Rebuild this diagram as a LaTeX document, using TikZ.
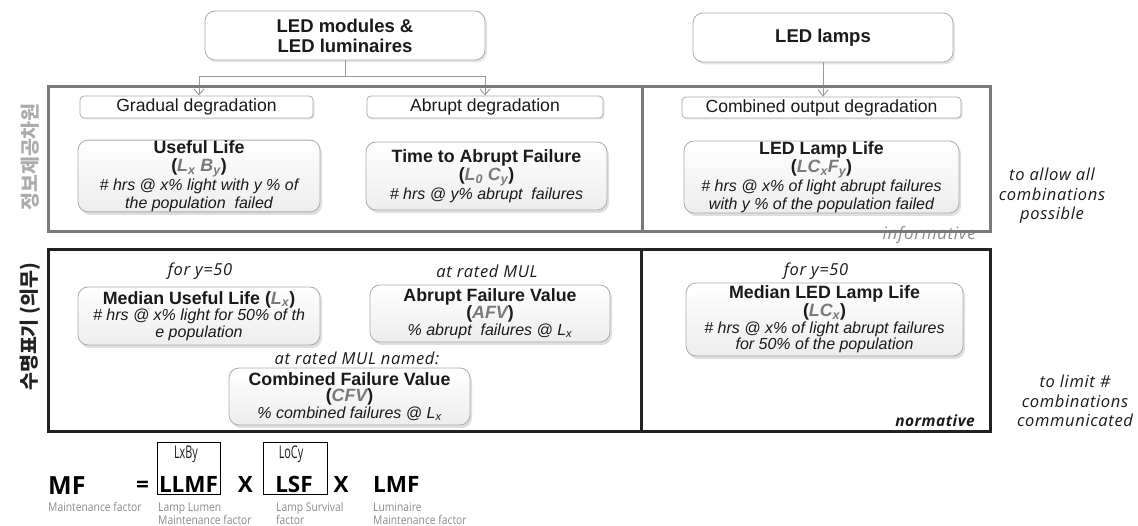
\documentclass[tikz,border=0pt]{standalone}
\usepackage{fontspec}
\setmainfont{Liberation Sans}
\newfontfamily\osans{Open Sans}
\newfontfamily\osls{Open Sans}[LetterSpace=4]
\newfontfamily\oslt{Open Sans}[LetterSpace=3]
\newfontfamily\oscond{Open Sans}[FakeStretch=0.62]
\newfontfamily\oslab{Open Sans}[FakeStretch=0.86]
\newfontfamily\kr{Noto Sans CJK KR}
\usetikzlibrary{arrows.meta,shadows}
\definecolor{frameg}{HTML}{7A7A7A}
\definecolor{frameb}{HTML}{222222}
\definecolor{boxline}{HTML}{ABABAB}
\definecolor{txt}{HTML}{1A1A1A}
\definecolor{subc}{HTML}{7A7A7A}
\definecolor{conng}{HTML}{999999}
\definecolor{labg}{HTML}{8A8A8A}
\newcommand\vv[1]{{\color{subc}\itshape #1}}
\newcommand\desc{\fontsize{16}{18.5}\selectfont\itshape}
\newcommand\descb{\fontsize{16}{16.5}\selectfont\itshape}
\newcommand\notefont{\osls\itshape\fontsize{16.5}{19.5}\selectfont}
\begin{document}
\begin{tikzpicture}[x=1pt,y=-1pt,
  bigbox/.style={draw=boxline, line width=0.8pt, rounded corners=10pt, top color=white, bottom color=gray!14,
     drop shadow={opacity=0.25, shadow xshift=2pt, shadow yshift=-3pt},
     align=center, inner sep=0pt, text=txt, font=\fontsize{17.8}{18.5}\selectfont},
  bigboxb/.style={bigbox, font=\fontsize{17.8}{16.5}\selectfont},
  titlebox/.style={draw=boxline, line width=0.8pt, rounded corners=10pt, fill=white,
     drop shadow={opacity=0.2, shadow xshift=2pt, shadow yshift=-2.5pt},
     align=center, inner sep=0pt, text=txt, font=\bfseries\fontsize{18.5}{20}\selectfont},
  lbox/.style={draw=boxline, line width=0.8pt, rounded corners=4pt, fill=white,
     drop shadow={opacity=0.2, shadow xshift=1.5pt, shadow yshift=-1.5pt},
     inner sep=0pt, text=txt, font=\fontsize{17.6}{18}\selectfont},
  conn/.style={draw=conng, line width=0.9pt},
  arr/.style={conn, -{Straight Barb[length=6pt,width=10pt]}},
  note/.style={align=center, inner sep=0pt, text=txt, font=\notefont},
  fbig/.style={inner sep=0pt, anchor=base, text=black, font=\osans\bfseries\fontsize{22.5}{24}\selectfont},
  flab/.style={inner sep=0pt, anchor=base west, text=labg, font=\oslab\fontsize{12}{13}\selectfont},
  fsmall/.style={inner sep=0pt, anchor=center, text=txt, font=\oscond\fontsize{17.5}{18}\selectfont}
]
\useasboundingbox (0,0) rectangle (1138,526);

% ---------- top source boxes
\node[titlebox, minimum width=280pt, minimum height=49pt] (mod) at (345,35.5) {LED modules \&\\LED luminaires};
\node[titlebox, minimum width=260pt, minimum height=49pt] (lamps) at (823,37.5) {LED lamps};

% ---------- informative section
\node[lbox, minimum width=233pt, minimum height=22pt] (grad) at (196.5,107) {Gradual degradation};
\node[lbox, minimum width=236pt, minimum height=22pt] (abr) at (485,107) {Abrupt degradation};
\node[lbox, minimum width=279pt, minimum height=21pt] (comb) at (821.5,107.5) {Combined output degradation};

\node[bigbox, minimum width=242pt, minimum height=70pt] (useful) at (199,176)
  {{\bfseries Useful Life}\\
   {\bfseries (\vv{L\textsubscript{x} B\textsubscript{y}})}\\
   {\desc \# hrs @ x\% light with y \% of}\\
   {\desc the population\ \ failed}};
\node[bigbox, minimum width=241pt, minimum height=68pt] (tta) at (486.5,176)
  {{\bfseries Time to Abrupt Failure}\\
   {\bfseries (\vv{L\textsubscript{0} C\textsubscript{y}})}\\
   {\desc \# hrs @ y\% abrupt\ \ failures}};
\node[bigbox, minimum width=275pt, minimum height=72pt] (lll) at (821.5,177)
  {{\bfseries LED Lamp Life}\\
   {\bfseries (\vv{LC\textsubscript{x}F\textsubscript{y}})}\\
   {\desc \# hrs @ x\% of light abrupt failures}\\
   {\desc with y \% of the population failed}};

\node[inner sep=0pt, anchor=base east, text=labg, font=\osls\itshape\fontsize{17}{18}\selectfont] (inf) at (976,240) {informative};

% ---------- connectors
\coordinate (j1) at (345,76);
\draw[conn] (mod.south) -- (j1);
\draw[arr] (j1) -| ([xshift=2.5pt]grad.north);
\draw[arr] (j1) -| (abr.north);
\draw[arr] (lamps.south) -- (lamps.south |- comb.north);

% ---------- frames
\draw[draw=frameg, line width=3pt] (48,87) rectangle (990,232);
\draw[draw=frameg, line width=3pt] (642,87) -- (642,232);

% ---------- normative section
\node[note] (fy1) at (200,271) {for y=50};
\node[note] (arm) at (487,271) {at rated MUL};
\node[note] (fy2) at (816,271) {for y=50};

\node[bigboxb, minimum width=242pt, minimum height=58pt] (mul) at (199,316)
  {{\bfseries Median Useful Life (\vv{L\textsubscript{x}})}\\
   {\descb \# hrs @ x\% light for 50\% of th}\\
   {\descb e population}};
\node[bigboxb, minimum width=240pt, minimum height=57pt] (afv) at (490,313.5)
  {{\bfseries Abrupt Failure Value}\\
   {\bfseries (\vv{AFV})}\\
   {\descb \% abrupt\ \ failures @ L\textsubscript{x}}};
\node[note] (armn) at (357,358.5) {at rated MUL named:};
\node[bigboxb, minimum width=241pt, minimum height=57pt] (cfv) at (349.5,396.5)
  {{\bfseries Combined Failure Value}\\
   {\bfseries (\vv{CFV})}\\
   {\descb \% combined failures @ L\textsubscript{x}}};
\node[bigboxb, minimum width=277pt, minimum height=73pt] (mlll) at (824.5,319.5)
  {{\bfseries Median LED Lamp Life}\\
   {\bfseries (\vv{LC\textsubscript{x}})}\\
   {\descb \# hrs @ x\% of light abrupt failures}\\
   {\descb for 50\% of the population}};

\node[inner sep=0pt, anchor=base east, text=txt, font=\oslt\bfseries\itshape\fontsize{15.5}{16}\selectfont] (norm) at (975,427) {normative};

\draw[draw=frameb, line width=3pt] (48,250) rectangle (990,432);
\draw[draw=frameb, line width=3pt] (641,250) -- (641,432);

% ---------- side labels
\node[rotate=90, inner sep=0pt, text=gray!65, font=\kr\bfseries\fontsize{19.5}{20}\selectfont] (kr1) at (30,157) {정보제공차원};
\node[rotate=90, inner sep=0pt, text=frameb, font=\kr\bfseries\fontsize{19.5}{20}\selectfont] (kr2) at (30,327) {수명표기 (의무)};

\node[note] (n1) at (1052,196) {to allow all\\combinations\\possible};
\node[note] (n2) at (1075,401) {to limit \#\\combinations\\communicated};

% ---------- formula
\node[fbig, anchor=base west, font=\osans\bfseries\fontsize{25}{26}\selectfont] (mf) at (48,494) {MF};
\node[fbig, anchor=base west] (eq) at (136,492) {=};
\node[draw=black, line width=0.8pt, minimum width=63pt, minimum height=52pt, inner sep=0pt] (llmfbox) at (188.5,468) {};
\node[fsmall] (lxby) at (186,454) {LxBy};
\node[fbig] (llmf) at (188.5,492) {LLMF};
\node[fbig] (x1) at (245.5,492) {X};
\node[draw=black, line width=0.8pt, minimum width=64pt, minimum height=52pt, inner sep=0pt] (lsfbox) at (295,468) {};
\node[fsmall] (locy) at (291,454) {LoCy};
\node[fbig] (lsf) at (294,492) {LSF};
\node[fbig] (x2) at (341,492) {X};
\node[fbig, anchor=base west] (lmf) at (373,492) {LMF};

\node[flab] (l1) at (48,511) {Maintenance factor};
\node[flab] (l2a) at (158,511) {Lamp Lumen};
\node[flab] (l2b) at (158,524) {Maintenance factor};
\node[flab] (l3a) at (276,511) {Lamp Survival};
\node[flab] (l3b) at (276,524) {factor};
\node[flab] (l4a) at (373,511) {Luminaire};
\node[flab] (l4b) at (373,524) {Maintenance factor};
\end{tikzpicture}
\end{document}
